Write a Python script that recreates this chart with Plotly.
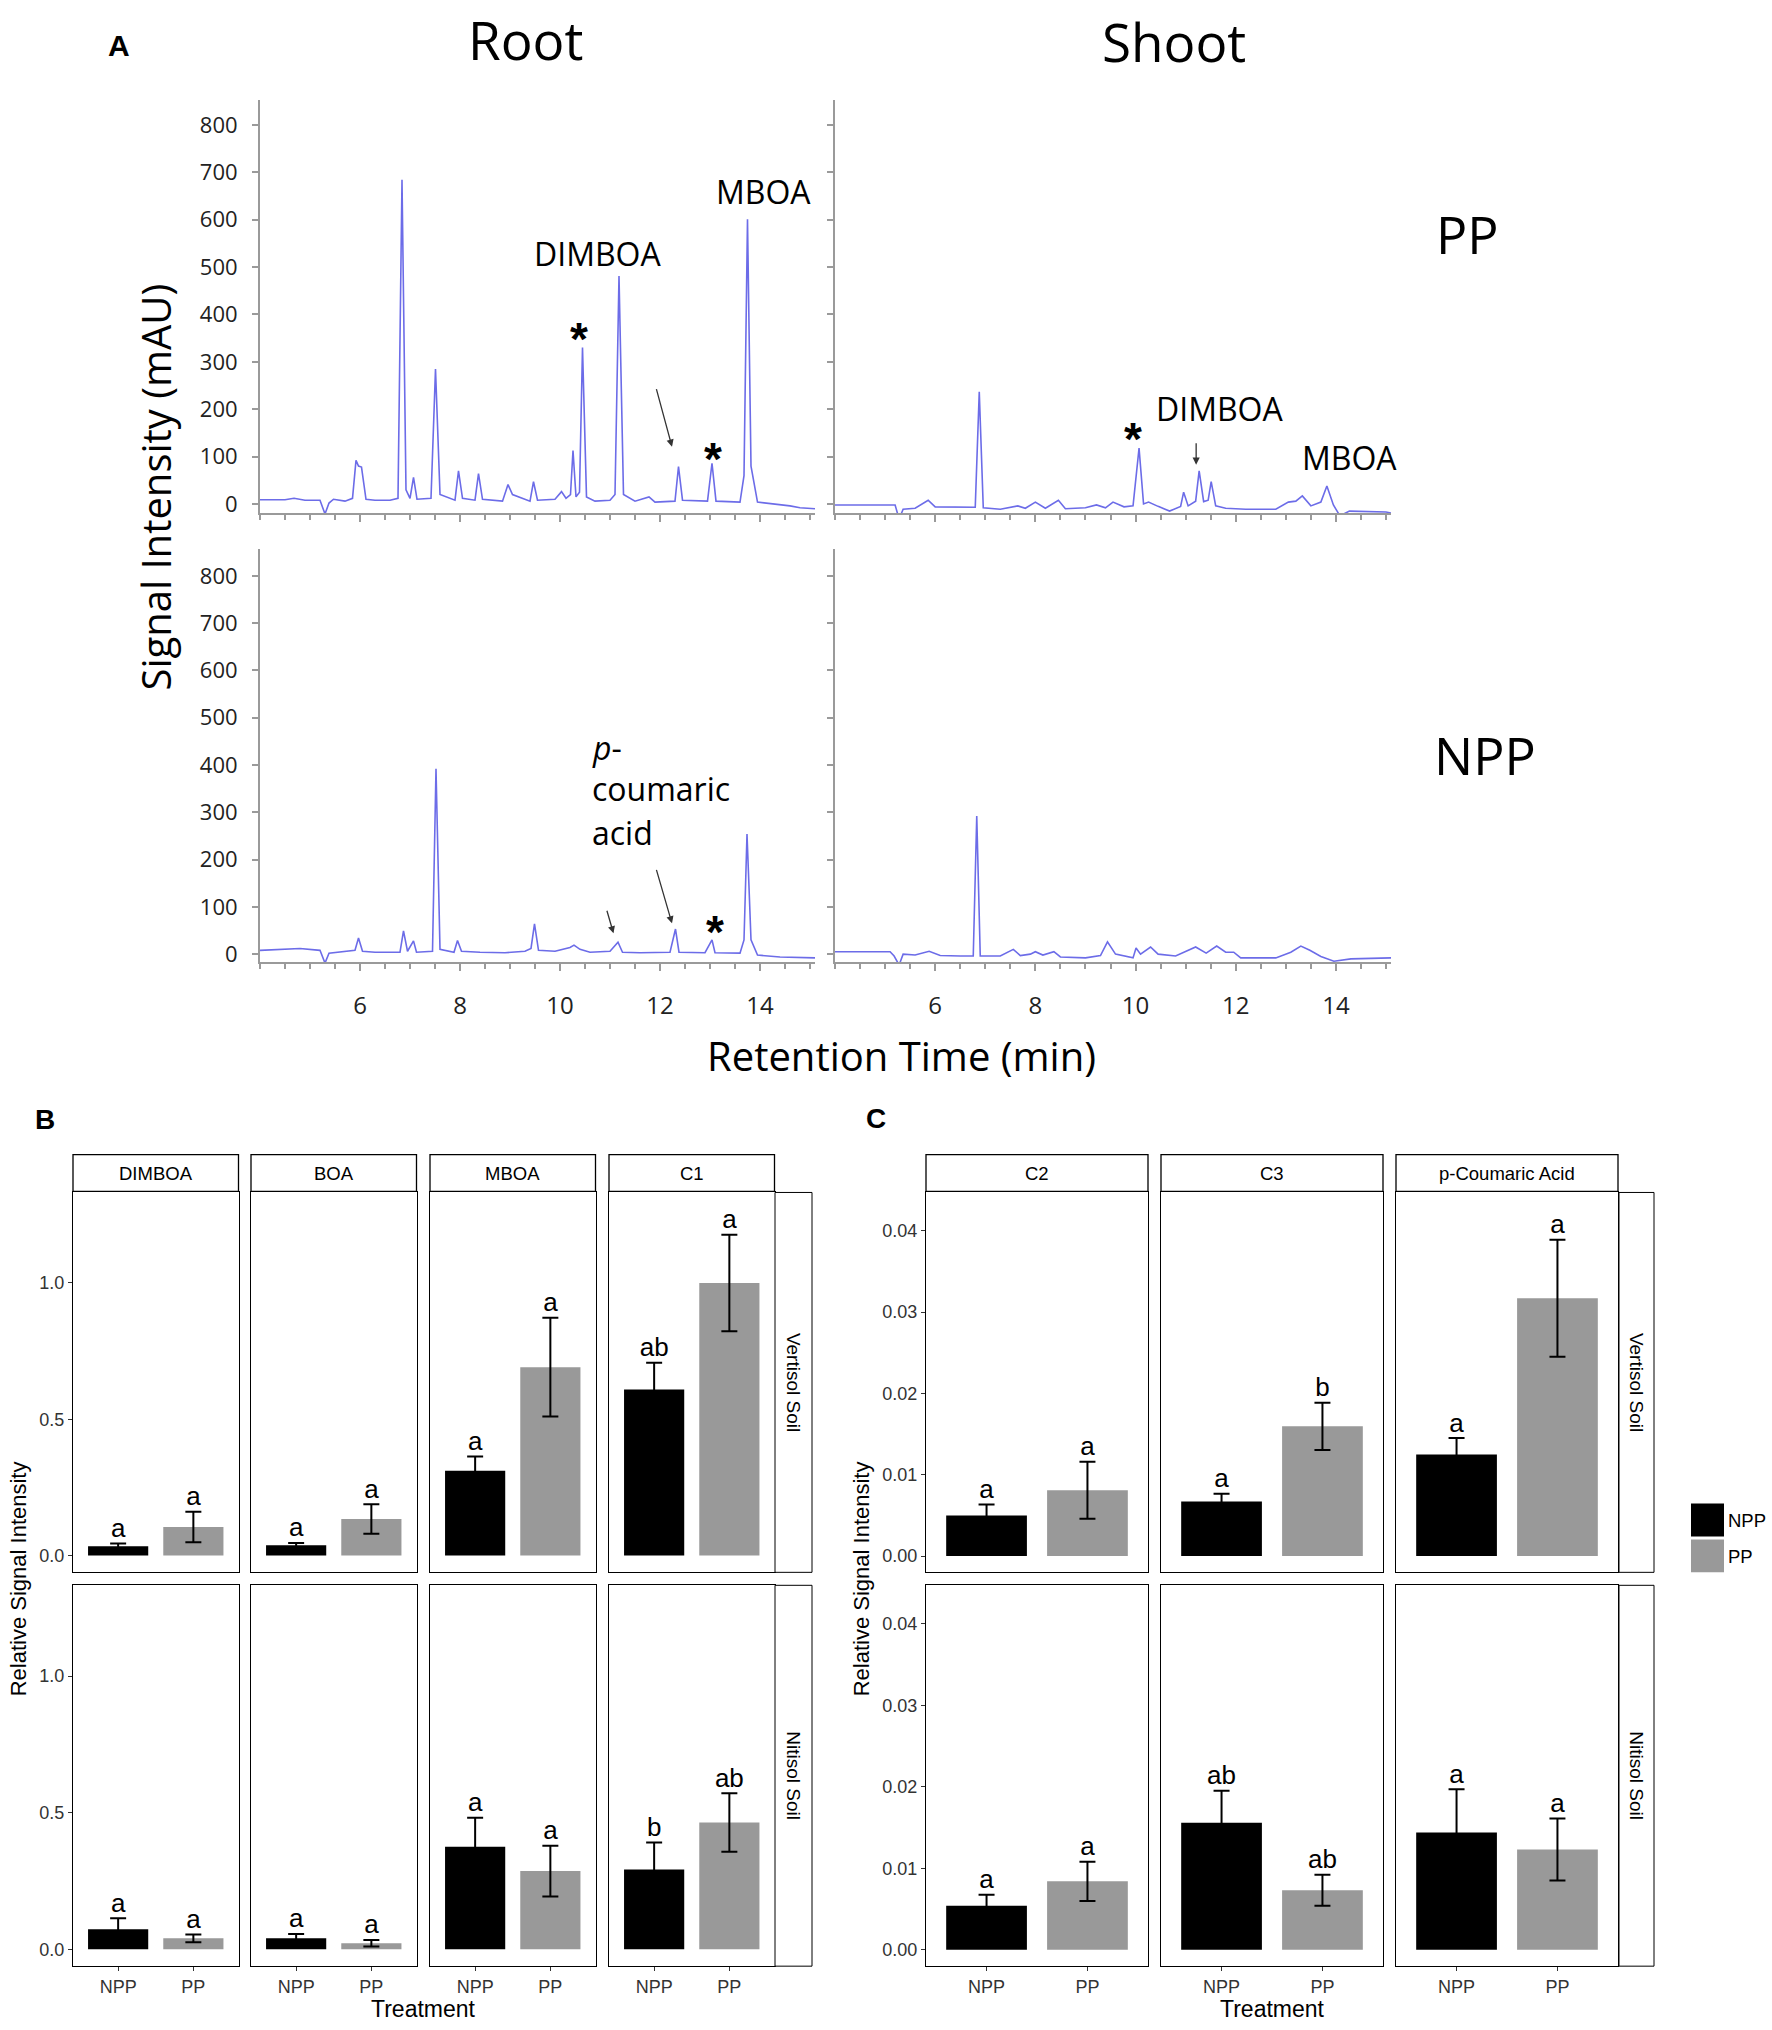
import plotly.graph_objects as go

W, H = 1772, 2030

# ---------------- Panel A: chromatograms (retention time in min, signal in mAU) ----------------
rt_root_pp = [4.0, 4.5, 4.68, 4.9, 5.2, 5.30, 5.38, 5.47, 5.7, 5.85, 5.92, 5.97, 6.03, 6.12, 6.3, 6.6,
              6.76, 6.84, 6.92, 7.0, 7.07, 7.14, 7.42, 7.51, 7.6, 7.9, 7.97, 8.05, 8.3, 8.37, 8.45,
              8.85, 8.96, 9.05, 9.4, 9.47, 9.55, 9.9, 10.03, 10.12, 10.21, 10.26, 10.32, 10.39,
              10.45, 10.53, 10.7, 11.0, 11.1, 11.18, 11.27, 11.5, 11.78, 11.9, 12.3, 12.37, 12.45,
              12.95, 13.04, 13.12, 13.6, 13.68, 13.75, 13.82, 13.95, 14.3, 14.6, 14.8, 15.1]
sig_root_pp = [9, 9, 12, 8, 8, -21, 2, 10, 6, 12, 92, 80, 78, 10, 8, 8,
               12, 684, 30, 12, 56, 10, 12, 285, 20, 8, 70, 12, 8, 64, 10,
               6, 41, 20, 6, 47, 8, 10, 26, 12, 20, 113, 15, 25,
               330, 15, 6, 8, 20, 481, 20, 6, 15, 4, 6, 79, 8,
               6, 86, 6, 4, 60, 601, 80, 4, 0, -4, -8, -10]

rt_root_npp = [4.0, 4.4, 4.8, 5.2, 5.30, 5.38, 5.6, 5.9, 5.97, 6.05, 6.3, 6.8, 6.87, 6.95, 7.07, 7.13,
               7.45, 7.52, 7.6, 7.88, 7.95, 8.03, 8.4, 8.9, 9.3, 9.42, 9.49, 9.57, 9.9, 10.2, 10.28,
               10.4, 10.6, 11.0, 11.16, 11.25, 11.6, 12.2, 12.31, 12.38, 12.9, 13.04, 13.1, 13.6,
               13.68, 13.74, 13.82, 13.95, 14.4, 15.1]
sig_root_npp = [8, 10, 12, 8, -19, 2, 4, 8, 34, 6, 4, 4, 49, 6, 28, 4,
                6, 392, 10, 4, 29, 6, 4, 3, 6, 12, 64, 8, 6, 14, 19,
                10, 4, 6, 25, 4, 3, 4, 53, 4, 3, 30, 3, 2,
                30, 254, 30, -2, -6, -8]

rt_shoot_pp = [4.0, 5.2, 5.28, 5.36, 5.6, 5.86, 6.0, 6.5, 6.8, 6.88, 6.96, 7.3, 7.65, 7.8, 8.0, 8.2,
               8.46, 8.6, 9.0, 9.22, 9.4, 9.55, 9.77, 9.95, 10.07, 10.16, 10.26, 10.45, 10.68, 10.9,
               10.96, 11.05, 11.2, 11.27, 11.36, 11.45, 11.51, 11.6, 11.8, 12.2, 12.8, 13.05, 13.2,
               13.33, 13.5, 13.7, 13.82, 13.95, 14.08, 14.27, 14.6, 15.0, 15.1]
sig_shoot_pp = [-2, -2, -32, -11, -9, 8, -6, -7, -7, 237, -8, -11, -4, -9, 4, -9,
                8, -10, -8, -2, -8, 4, -6, -4, 118, 0, 4, -5, -15, -5,
                25, -4, 6, 70, 5, 8, 47, -4, -9, -11, -11, 4, 6,
                17, -4, 4, 38, -2, -25, -15, -16, -17, -19]

rt_shoot_npp = [4.0, 4.6, 5.1, 5.18, 5.28, 5.36, 5.6, 5.88, 6.1, 6.5, 6.76, 6.83, 6.9, 7.3, 7.56, 7.7,
                7.9, 8.0, 8.15, 8.37, 8.5, 9.0, 9.3, 9.44, 9.6, 9.95, 10.01, 10.1, 10.3, 10.45, 10.8,
                11.2, 11.41, 11.62, 11.8, 11.96, 12.1, 12.8, 13.1, 13.3, 13.48, 13.7, 13.96, 14.3, 15.1]
sig_shoot_npp = [5, 5, 5, -4, -23, 0, -2, 6, -3, -4, -4, 292, -4, -4, 10, -3,
                 0, 5, -2, 5, -6, -8, -3, 26, 0, -8, 13, 0, 15, 0, -4,
                 15, 2, 17, 4, 4, -8, -8, 4, 17, 8, -5, -15, -10, -8]

chrom_yticks = [0, 100, 200, 300, 400, 500, 600, 700, 800]
chrom_xticks = [6, 8, 10, 12, 14]

# ---------------- Panel B / C: relative signal intensity ----------------
treatments = ['NPP', 'PP']
soils = ['Vertisol Soil', 'Nitisol Soil']

b_compounds = ['DIMBOA', 'BOA', 'MBOA', 'C1']
b_vertisol_npp = [0.034, 0.037, 0.311, 0.609]
b_vertisol_npp_se = [0.010, 0.009, 0.052, 0.098]
b_vertisol_pp = [0.104, 0.134, 0.691, 1.000]
b_vertisol_pp_se = [0.056, 0.054, 0.181, 0.177]
b_nitisol_npp = [0.073, 0.040, 0.375, 0.292]
b_nitisol_npp_se = [0.040, 0.016, 0.106, 0.099]
b_nitisol_pp = [0.040, 0.022, 0.286, 0.464]
b_nitisol_pp_se = [0.014, 0.012, 0.093, 0.107]
b_vertisol_npp_lab = ['a', 'a', 'a', 'ab']
b_vertisol_pp_lab = ['a', 'a', 'a', 'a']
b_nitisol_npp_lab = ['a', 'a', 'a', 'b']
b_nitisol_pp_lab = ['a', 'a', 'a', 'ab']

c_compounds = ['C2', 'C3', 'p-Coumaric Acid']
c_vertisol_npp = [0.0050, 0.0067, 0.0125]
c_vertisol_npp_se = [0.00135, 0.00095, 0.0020]
c_vertisol_pp = [0.0081, 0.01595, 0.0317]
c_vertisol_pp_se = [0.0035, 0.0029, 0.0072]
c_nitisol_npp = [0.0054, 0.0156, 0.0144]
c_nitisol_npp_se = [0.00135, 0.0039, 0.0053]
c_nitisol_pp = [0.0084, 0.0073, 0.0123]
c_nitisol_pp_se = [0.0024, 0.0019, 0.0038]
c_vertisol_npp_lab = ['a', 'a', 'a']
c_vertisol_pp_lab = ['a', 'b', 'a']
c_nitisol_npp_lab = ['a', 'ab', 'a']
c_nitisol_pp_lab = ['a', 'ab', 'a']

A_FONT = '"Open Sans", Lato, sans-serif'
GG_FONT = '"Liberation Sans", Arial, sans-serif'
TRACE = 'rgb(108,108,232)'
AXGRAY = '#9a9a9a'
PP_GRAY = '#999999'


def fx(x):
    return x / W


def fy(y):
    return 1 - y / H


def names(n):
    if n == 1:
        return 'xaxis', 'yaxis', 'x', 'y'
    return f'xaxis{n}', f'yaxis{n}', f'x{n}', f'y{n}'


fig = go.Figure()
layout = {}
annotations = []
shapes = []

# chromatogram panels: (x data, y data, x px span, y px span, y range, x labels, y labels)
chrom = [
    (rt_root_pp, sig_root_pp, (260, 815), (100, 515), [-20, 853], False, True),
    (rt_shoot_pp, sig_shoot_pp, (835, 1391), (100, 515), [-20, 853], False, False),
    (rt_root_npp, sig_root_npp, (260, 815), (551, 965), [-17, 856], True, True),
    (rt_shoot_npp, sig_shoot_npp, (835, 1391), (551, 965), [-17, 856], True, False),
]
for i, (rt, sig, xs, ys, yr, xlab, ylab) in enumerate(chrom):
    n = i + 1
    xk, yk, xa, ya = names(n)
    fig.add_trace(go.Scatter(x=rt, y=sig, mode='lines', line=dict(color=TRACE, width=1.6),
                             xaxis=xa, yaxis=ya, showlegend=False, hoverinfo='skip'))
    layout[xk] = dict(domain=[fx(xs[0]), fx(xs[1])], anchor=ya, range=[4.0, 15.1],
                      showline=True, linecolor=AXGRAY, linewidth=2, ticks='outside',
                      tickvals=chrom_xticks, ticklen=7, tickcolor=AXGRAY, tickwidth=1.5,
                      minor=dict(dtick=0.5, tick0=4, ticks='outside', ticklen=5,
                                 tickcolor=AXGRAY, showgrid=False),
                      showticklabels=xlab, ticklabelstandoff=14,
                      tickfont=dict(family=A_FONT, size=24, color='#222'),
                      showgrid=False, zeroline=False)
    layout[yk] = dict(domain=[fy(ys[1]), fy(ys[0])], anchor=xa, range=yr,
                      showline=True, linecolor=AXGRAY, linewidth=2, ticks='outside',
                      tickvals=chrom_yticks, ticklen=6, tickcolor=AXGRAY, tickwidth=1.5,
                      showticklabels=ylab, ticklabelstandoff=10,
                      tickfont=dict(family=A_FONT, size=22, color='#222'),
                      showgrid=False, zeroline=False)


def atext(text, x, y, size, family=A_FONT, bold=False, angle=0, xanchor='center', color='black'):
    if bold:
        text = f'<b>{text}</b>'
    annotations.append(dict(text=text, x=fx(x), y=fy(y), xref='paper', yref='paper',
                            showarrow=False, xanchor=xanchor, yanchor='middle', textangle=angle,
                            font=dict(family=family, size=size, color=color)))


def arrow(xa, ya, t, v, dx, dy):
    annotations.append(dict(text='', x=t, y=v, xref=xa, yref=ya, ax=dx, ay=dy,
                            showarrow=True, arrowhead=2, arrowsize=1.1, arrowwidth=1.3,
                            arrowcolor='#333'))


# panel A texts
atext('A', 119, 46, 30, family=GG_FONT, bold=True)
atext('Root', 525, 40, 53)
atext('Shoot', 1174, 42, 53)
atext('PP', 1467, 234, 52)
atext('NPP', 1485, 757, 52)
atext('Signal Intensity (mAU)', 156, 489, 40, angle=-90)
atext('Retention Time (min)', 901, 1059, 40)
atext('DIMBOA', 598, 254, 32)
atext('MBOA', 763, 192, 32)
atext('DIMBOA', 1220, 410, 32)
atext('MBOA', 1349, 459, 32)
atext('<i>p</i>-', 590, 750, 32, xanchor='left')
atext('coumaric', 590, 791, 32, xanchor='left')
atext('acid', 590, 835, 32, xanchor='left')
for sx, sy in [(579, 340), (713, 460), (1133, 440), (715, 935)]:
    atext('*', sx, sy, 46, family=GG_FONT, bold=True)
arrow('x', 'y', 12.24, 121, -16, -59)
arrow('x2', 'y2', 11.21, 83, 0, -23)
arrow('x3', 'y3', 11.07, 44, -7, -24)
arrow('x3', 'y3', 12.24, 65, -16, -55)

# ---------------- facet panels ----------------
rows_px = [(1196, 1577), (1590, 1972)]
strip_top = (1158, 1195)


def facet_block(compounds, lefts, width, right_strip, yrange, yticks, ytext,
                npp_rows, npp_se_rows, pp_rows, pp_se_rows, npp_lab_rows, pp_lab_rows, n0):
    n = n0
    for r, (top, bot) in enumerate(rows_px):
        for c, comp in enumerate(compounds):
            xk, yk, xa, ya = names(n)
            left = lefts[c]
            vals = [npp_rows[r][c], pp_rows[r][c]]
            ses = [npp_se_rows[r][c], pp_se_rows[r][c]]
            labs = [npp_lab_rows[r][c], pp_lab_rows[r][c]]
            for k, trt in enumerate(treatments):
                fig.add_trace(go.Bar(x=[trt], y=[vals[k]], width=0.8,
                                     marker=dict(color='black' if trt == 'NPP' else PP_GRAY,
                                                 line=dict(width=0)),
                                     error_y=dict(type='data', array=[ses[k]], width=8,
                                                  thickness=2, color='black'),
                                     xaxis=xa, yaxis=ya, showlegend=False, hoverinfo='skip'))
            fig.add_trace(go.Scatter(x=treatments, y=[vals[0] + ses[0], vals[1] + ses[1]],
                                     text=labs, mode='text', textposition='top center',
                                     textfont=dict(family=GG_FONT, size=26, color='black'),
                                     cliponaxis=False, xaxis=xa, yaxis=ya,
                                     showlegend=False, hoverinfo='skip'))
            bottom_row = r == len(rows_px) - 1
            layout[xk] = dict(domain=[fx(left), fx(left + width)], anchor=ya,
                              type='category', categoryorder='array', categoryarray=treatments,
                              range=[-0.6, 1.6], showline=True, mirror=True, linecolor='black',
                              linewidth=1.3, ticks='outside' if bottom_row else '',
                              ticklen=4, tickcolor='#333', showticklabels=bottom_row,
                              tickfont=dict(family=GG_FONT, size=18, color='#333'),
                              showgrid=False, zeroline=False)
            layout[yk] = dict(domain=[fy(bot), fy(top)], anchor=xa, range=yrange,
                              showline=True, mirror=True, linecolor='black', linewidth=1.3,
                              ticks='outside' if c == 0 else '', ticklen=4, tickcolor='#333',
                              tickvals=yticks, ticktext=ytext, showticklabels=c == 0,
                              tickfont=dict(family=GG_FONT, size=18, color='#333'),
                              showgrid=False, zeroline=False)
            if r == 0:
                shapes.append(dict(type='rect', xref='paper', yref='paper',
                                   x0=fx(left), x1=fx(left + width),
                                   y0=fy(strip_top[1]), y1=fy(strip_top[0]),
                                   fillcolor='white', line=dict(color='black', width=1.3)))
                atext(comp, left + width / 2, (strip_top[0] + strip_top[1]) / 2, 18.5,
                      family=GG_FONT)
            n += 1
        shapes.append(dict(type='rect', xref='paper', yref='paper',
                           x0=fx(right_strip[0]), x1=fx(right_strip[1]),
                           y0=fy(bot), y1=fy(top), fillcolor='white',
                           line=dict(color='black', width=1)))
        atext(soils[r], (right_strip[0] + right_strip[1]) / 2, (top + bot) / 2, 19,
              family=GG_FONT, angle=90)
    return n


n_next = facet_block(b_compounds, [73, 251, 430, 609], 165.5, (775, 812),
                     [-0.062, 1.332], [0, 0.5, 1.0], ['0.0', '0.5', '1.0'],
                     [b_vertisol_npp, b_nitisol_npp], [b_vertisol_npp_se, b_nitisol_npp_se],
                     [b_vertisol_pp, b_nitisol_pp], [b_vertisol_pp_se, b_nitisol_pp_se],
                     [b_vertisol_npp_lab, b_nitisol_npp_lab], [b_vertisol_pp_lab, b_nitisol_pp_lab],
                     5)
facet_block(c_compounds, [926, 1161, 1396], 222, (1619, 1654),
            [-0.002, 0.0447], [0, 0.01, 0.02, 0.03, 0.04],
            ['0.00', '0.01', '0.02', '0.03', '0.04'],
            [c_vertisol_npp, c_nitisol_npp], [c_vertisol_npp_se, c_nitisol_npp_se],
            [c_vertisol_pp, c_nitisol_pp], [c_vertisol_pp_se, c_nitisol_pp_se],
            [c_vertisol_npp_lab, c_nitisol_npp_lab], [c_vertisol_pp_lab, c_nitisol_pp_lab],
            n_next)

atext('B', 45, 1123, 28, family=GG_FONT, bold=True)
atext('C', 876, 1122, 28, family=GG_FONT, bold=True)
atext('Relative Signal Intensity', 18, 1584, 22, family=GG_FONT, angle=-90)
atext('Relative Signal Intensity', 861, 1584, 22, family=GG_FONT, angle=-90)
atext('Treatment', 423, 2015, 23, family=GG_FONT)
atext('Treatment', 1272, 2015, 23, family=GG_FONT)

# legend keys
for k, (trt, col) in enumerate(zip(treatments, ['black', PP_GRAY])):
    y0 = 1508 + k * 36
    shapes.append(dict(type='rect', xref='paper', yref='paper', x0=fx(1691), x1=fx(1724),
                       y0=fy(y0 + 33), y1=fy(y0), fillcolor=col, line=dict(width=0)))
    atext(trt, 1726, y0 + 17, 18.5, family=GG_FONT, xanchor='left')

fig.update_layout(layout)
fig.update_layout(width=W, height=H, margin=dict(l=0, r=0, t=0, b=0),
                  paper_bgcolor='white', plot_bgcolor='white', barmode='overlay',
                  showlegend=False, annotations=annotations, shapes=shapes)

fig.write_html('out.html', config={'displayModeBar': False},
               post_script="document.body.style.margin='0';")
